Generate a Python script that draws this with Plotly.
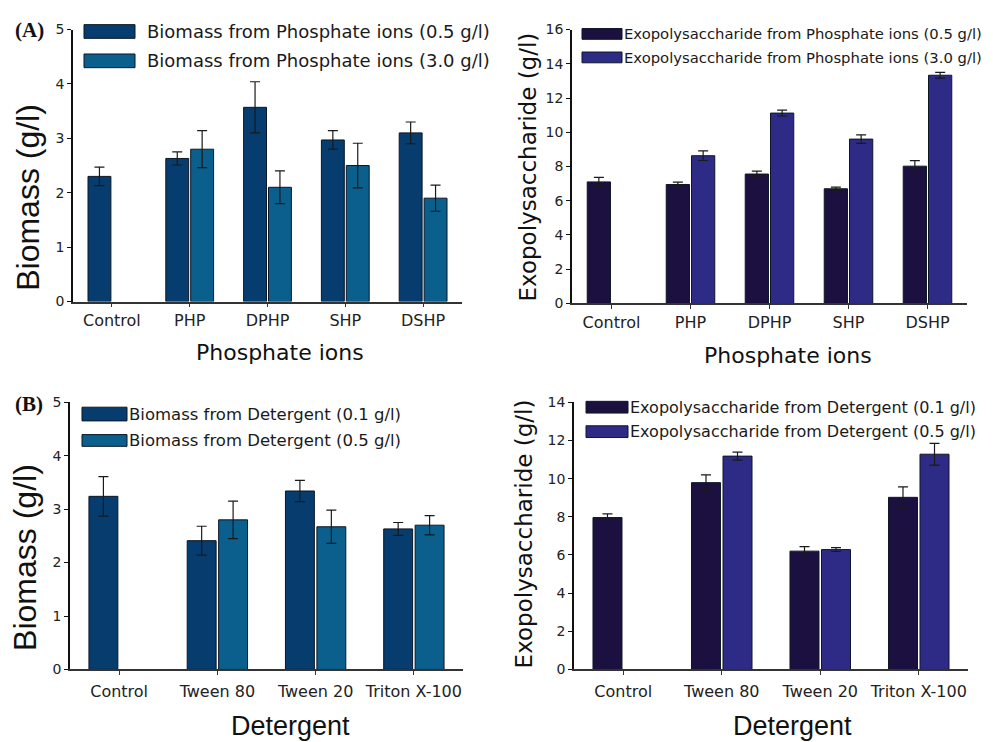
import plotly.graph_objects as go

# ---- data ----
phosphate_cats = ["Control", "PHP", "DPHP", "SHP", "DSHP"]
detergent_cats = ["Control", "Tween 80", "Tween 20", "Triton X-100"]

bio_phos_low = [2.30, 2.63, 3.57, 2.97, 3.10]
bio_phos_low_err = [0.17, 0.12, 0.47, 0.17, 0.20]
bio_phos_high = [None, 2.80, 2.10, 2.50, 1.90]
bio_phos_high_err = [None, 0.34, 0.30, 0.41, 0.24]

eps_phos_low = [7.10, 6.95, 7.56, 6.70, 8.02]
eps_phos_low_err = [0.27, 0.14, 0.17, 0.10, 0.32]
eps_phos_high = [None, 8.63, 11.12, 9.60, 13.33]
eps_phos_high_err = [None, 0.28, 0.17, 0.25, 0.17]

bio_det_low = [3.24, 2.41, 3.34, 2.63]
bio_det_low_err = [0.37, 0.27, 0.20, 0.12]
bio_det_high = [None, 2.80, 2.67, 2.70]
bio_det_high_err = [None, 0.35, 0.31, 0.18]

eps_det_low = [7.96, 9.79, 6.20, 9.02]
eps_det_low_err = [0.19, 0.41, 0.24, 0.55]
eps_det_high = [None, 11.18, 6.28, 11.28]
eps_det_high_err = [None, 0.21, 0.10, 0.57]

# ---- styling ----
W, H = 993, 742
BIO_DARK, BIO_LIGHT = "#063c6e", "#0b5f8c"
EPS_DARK, EPS_LIGHT = "#1c1040", "#2e2b86"
OUTLINE = "#0d1726"
SANS = "DejaVu Sans"


def px(x):
    return x / W


def py(y):
    return 1 - y / H


fig = go.Figure()


def add_bars(x, y, err, color, xa, ya, name):
    fig.add_trace(go.Bar(
        x=x, y=y, name=name, xaxis=xa, yaxis=ya, showlegend=False,
        marker=dict(color=color, line=dict(color=OUTLINE, width=1)),
        error_y=dict(type="data", array=err, visible=True,
                     color="#1a1a1a", thickness=1.2, width=5),
    ))


add_bars(phosphate_cats, bio_phos_low, bio_phos_low_err, BIO_DARK, "x", "y",
         "Biomass from Phosphate ions (0.5 g/l)")
add_bars(phosphate_cats, bio_phos_high, bio_phos_high_err, BIO_LIGHT, "x", "y",
         "Biomass from Phosphate ions (3.0 g/l)")
add_bars(phosphate_cats, eps_phos_low, eps_phos_low_err, EPS_DARK, "x2", "y2",
         "Exopolysaccharide from Phosphate ions (0.5 g/l)")
add_bars(phosphate_cats, eps_phos_high, eps_phos_high_err, EPS_LIGHT, "x2", "y2",
         "Exopolysaccharide from Phosphate ions (3.0 g/l)")
add_bars(detergent_cats, bio_det_low, bio_det_low_err, BIO_DARK, "x3", "y3",
         "Biomass from Detergent (0.1 g/l)")
add_bars(detergent_cats, bio_det_high, bio_det_high_err, BIO_LIGHT, "x3", "y3",
         "Biomass from Detergent (0.5 g/l)")
add_bars(detergent_cats, eps_det_low, eps_det_low_err, EPS_DARK, "x4", "y4",
         "Exopolysaccharide from Detergent (0.1 g/l)")
add_bars(detergent_cats, eps_det_high, eps_det_high_err, EPS_LIGHT, "x4", "y4",
         "Exopolysaccharide from Detergent (0.5 g/l)")


def xaxis(domain, anchor, standoff):
    return dict(domain=domain, anchor=anchor, type="category",
                showline=True, linecolor="#333333", linewidth=1.5,
                ticks="outside", ticklen=4, tickcolor="#333333", tickwidth=1.2,
                ticklabelstandoff=standoff,
                showgrid=False, zeroline=False,
                tickfont=dict(family=SANS, size=16, color="#222222"))


def yaxis(domain, anchor, rng, dtick):
    return dict(domain=domain, anchor=anchor, range=rng, dtick=dtick,
                showline=True, linecolor="#111111", linewidth=1.5,
                ticks="outside", ticklen=4, tickcolor="#111111", tickwidth=1.2,
                showgrid=False, zeroline=False,
                tickfont=dict(family=SANS, size=14, color="#222222"))


fig.update_layout(
    width=W, height=H, autosize=False,
    margin=dict(l=0, r=0, t=0, b=0),
    paper_bgcolor="white", plot_bgcolor="white",
    barmode="group", bargap=0.36, bargroupgap=0.08,
    xaxis=xaxis([px(73), px(462)], "y", 0),
    yaxis=yaxis([py(300), py(22)], "x", [0, 5], 1),
    xaxis2=xaxis([px(572), px(967)], "y2", 0),
    yaxis2=yaxis([py(302), py(22)], "x2", [0, 16], 2),
    xaxis3=xaxis([px(70), px(463)], "y3", 3),
    yaxis3=yaxis([py(676), py(403)], "x3", [0, 5], 1),
    xaxis4=xaxis([px(574), px(968)], "y4", 3),
    yaxis4=yaxis([py(676), py(403)], "x4", [0, 14], 2),
)

shapes = []
annotations = []


def legend_entry(x0, x1, y0, y1, color, text, size, gap):
    shapes.append(dict(type="rect", xref="paper", yref="paper",
                       x0=px(x0), x1=px(x1), y0=py(y1), y1=py(y0),
                       fillcolor=color, line=dict(color=OUTLINE, width=1)))
    annotations.append(dict(xref="paper", yref="paper", x=px(x1 + gap),
                            y=py((y0 + y1) / 2), xanchor="left", yanchor="middle",
                            text=text, showarrow=False,
                            font=dict(family=SANS, size=size, color="#1a1a1a")))


legend_entry(84, 135, 17, 31, BIO_DARK, "Biomass from Phosphate ions (0.5 g/l)", 18, 10)
legend_entry(84, 135, 47, 61, BIO_LIGHT, "Biomass from Phosphate ions (3.0 g/l)", 18, 10)
legend_entry(582, 622, 21, 32, EPS_DARK, "Exopolysaccharide from Phosphate ions (0.5 g/l)", 14.8, 0)
legend_entry(582, 622, 45, 56, EPS_LIGHT, "Exopolysaccharide from Phosphate ions (3.0 g/l)", 14.8, 0)
legend_entry(82, 127, 408, 422, BIO_DARK, "Biomass from Detergent (0.1 g/l)", 16.5, 0)
legend_entry(82, 127, 436, 448, BIO_LIGHT, "Biomass from Detergent (0.5 g/l)", 16.5, 0)
legend_entry(586, 628, 402, 414, EPS_DARK, "Exopolysaccharide from Detergent (0.1 g/l)", 16, 0)
legend_entry(586, 628, 427, 439, EPS_LIGHT, "Exopolysaccharide from Detergent (0.5 g/l)", 16, 0)


def text(x, y, s, size, family, angle=0, bold=False):
    annotations.append(dict(xref="paper", yref="paper", x=px(x), y=py(y),
                            xanchor="center", yanchor="middle", text=s,
                            textangle=angle, showarrow=False,
                            font=dict(family=family, size=size, color="#111111",
                                      weight="bold" if bold else "normal")))


# panel tags
text(29, 22, "(A)", 21, "Liberation Serif", bold=True)
text(29, 405, "(B)", 21, "Liberation Serif", bold=True)

# y-axis titles
text(28, 194, "Biomass (g/l)", 32, "Liberation Sans", angle=-90)
text(528, 163, "Exopolysaccharide (g/l)", 23, SANS, angle=-90)
text(25, 562, "Biomass (g/l)", 32, "Liberation Sans", angle=-90)
text(524, 538, "Exopolysaccharide (g/l)", 23, SANS, angle=-90)

# x-axis titles
text(280, 352, "Phosphate ions", 22, SANS)
text(788, 355, "Phosphate ions", 22, SANS)
text(290, 734, "Detergent", 27, "Liberation Sans")
text(792, 734, "Detergent", 27, "Liberation Sans")

fig.update_layout(shapes=shapes, annotations=annotations)

fig.write_html("out.html")
